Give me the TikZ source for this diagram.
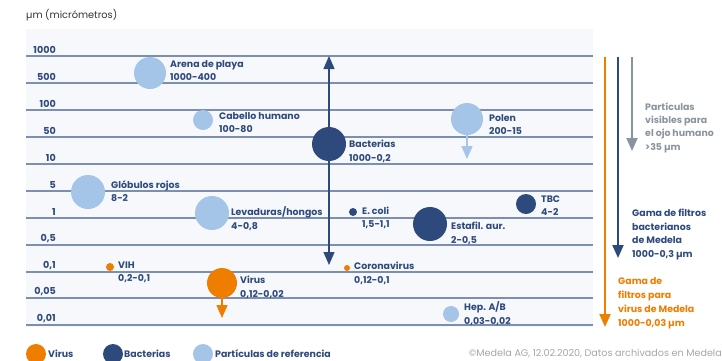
\documentclass[tikz,border=0pt]{standalone}
\usepackage{fontspec}
\setmainfont{Poppins}
\usetikzlibrary{arrows.meta}
\definecolor{navy}{HTML}{2E4A7D}
\definecolor{lblue}{HTML}{A4C4E8}
\definecolor{orng}{HTML}{EF7D00}
\definecolor{gry}{HTML}{8A949E}
\definecolor{cpy}{HTML}{A3A8AD}
\definecolor{gridc}{HTML}{7C8FB0}
\definecolor{panel}{HTML}{F6F8FC}
\begin{document}
\begin{tikzpicture}[x=1pt,y=-1pt,
  lbl/.style={font=\fontsize{9.4}{13.5}\selectfont\bfseries, text=navy, align=left, anchor=west, inner sep=0pt},
  axl/.style={font=\fontsize{9.6}{11}\selectfont\bfseries, text=navy, anchor=south east, inner sep=0pt},
  dot/.style={circle, draw=none, inner sep=0pt, minimum size=#1},
  gline/.style={gridc, line width=1.3pt},
  tip/.style={-{Triangle[width=11pt,length=13pt]}}
]
\useasboundingbox (0,0) rectangle (722,360);
\fill[white] (0,0) rectangle (722,360);
\node[anchor=west, inner sep=0pt, font=\fontsize{9.8}{10}\selectfont, text=black!80] (title) at (26,15) {µm (micrómetros)};
\fill[panel] (26,29) rectangle (593,327);
% grid lines and labels
\foreach \v/\y in {1000/56,500/83,100/110,50/137,10/164,5/191,1/218,{0,5}/245,{0,1}/272,{0,05}/298,{0,01}/325}{
  \draw[gline] (26,\y) -- (593,\y);
  \node[axl] at (56,\y-2.5) {\v};
}
% bacteria arrow
\coordinate (bt) at (329,56);
\coordinate (bb) at (329,265);
\draw[navy, line width=1.3pt, {Triangle[width=11pt,length=13pt]}-{Triangle[width=11pt,length=13pt]}] (bt) -- (bb);
% polen arrow
\coordinate (pt) at (467,159);
\node[dot=32pt, fill=lblue] (polen) at (467,119) {};
\draw[lblue, line width=1.5pt, tip] (polen.center) -- (pt);
% virus arrow
\coordinate (vt) at (222,318);
\node[dot=30pt, fill=orng] (virus) at (222,283) {};
\draw[orng, line width=1.5pt, tip] (virus.center) -- (vt);
% circles
\node[dot=32pt, fill=lblue] (arena) at (150,73) {};
\node[lbl] (arenaL) at (170,70.5) {Arena de playa\\1000-400};
\node[dot=20pt, fill=lblue] (cab) at (203,120) {};
\node[lbl] (cabL) at (219,122.5) {Cabello humano\\100-80};
\node[dot=34pt, fill=navy] (bact) at (329,144) {};
\node[lbl] (bactL) at (349,151.5) {Bacterias\\1000-0,2};
\node[lbl] (polenL) at (489,124.5) {Polen\\200-15};
\node[dot=34pt, fill=lblue] (glob) at (88,192) {};
\node[lbl] (globL) at (111,191) {Glóbulos rojos\\8-2};
\node[dot=34pt, fill=lblue] (lev) at (212,213) {};
\node[lbl] (levL) at (231,218.5) {Levaduras/hongos\\4-0,8};
\node[dot=8pt, fill=navy] (ecoli) at (353,212) {};
\node[lbl] (ecoliL) at (362,218) {E. coli\\1,5-1,1};
\node[dot=34pt, fill=navy] (staf) at (430,224) {};
\node[lbl] (stafL) at (451,233.5) {Estafil. aur.\\2-0,5};
\node[dot=20pt, fill=navy] (tbc) at (526,204) {};
\node[lbl] (tbcL) at (541,205.5) {TBC\\4-2};
\node[dot=8pt, fill=orng] (vih) at (110,267) {};
\node[lbl] (vihL) at (118,272.5) {VIH\\0,2-0,1};
\node[lbl] (virusL) at (240,287.5) {Virus\\0,12-0,02};
\node[dot=6pt, fill=orng] (corona) at (347,268) {};
\node[lbl] (coronaL) at (354,273.5) {Coronavirus\\0,12-0,1};
\node[dot=16pt, fill=lblue] (hep) at (451,314) {};
\node[lbl] (hepL) at (464,313.5) {Hep. A/B\\0,03-0,02};
% right arrows
\coordinate (o1) at (605,57); \coordinate (o2) at (605,327);
\coordinate (n1) at (618,57); \coordinate (n2) at (618,258);
\coordinate (g1) at (632,57); \coordinate (g2) at (632,151);
\draw[orng, line width=2pt, tip] (o1) -- (o2);
\draw[navy, line width=2pt, tip] (n1) -- (n2);
\draw[gry, line width=2pt, tip] (g1) -- (g2);
\node[lbl, text=gry, font=\fontsize{9.4}{13.3}\selectfont\bfseries] (visL) at (645,127.5) {Partículas\\visibles para\\el ojo humano\\>35 µm};
\node[lbl, font=\fontsize{9.4}{13.7}\selectfont\bfseries] (bacL) at (632,234.5) {Gama de filtros\\bacterianos\\de Medela\\1000-0,3 µm};
\node[lbl, text=orng, font=\fontsize{9.4}{13.9}\selectfont\bfseries] (virL) at (618,303) {Gama de\\filtros para\\virus de Medela\\1000-0,03 µm};
% legend
\node[dot=20pt, fill=orng] (lg1) at (36,354) {};
\node[lbl] (lg1L) at (48,354) {Virus};
\node[dot=20pt, fill=navy] (lg2) at (113,354) {};
\node[lbl] (lg2L) at (124,354) {Bacterias};
\node[dot=20pt, fill=lblue] (lg3) at (203,354) {};
\node[lbl] (lg3L) at (215,354) {Partículas de referencia};
\node[anchor=east, inner sep=0pt, text=cpy, font=\fontsize{9.6}{10}\selectfont] (copy) at (722,354) {©Medela AG, 12.02.2020, Datos archivados en Medela};
\end{tikzpicture}
\end{document}
